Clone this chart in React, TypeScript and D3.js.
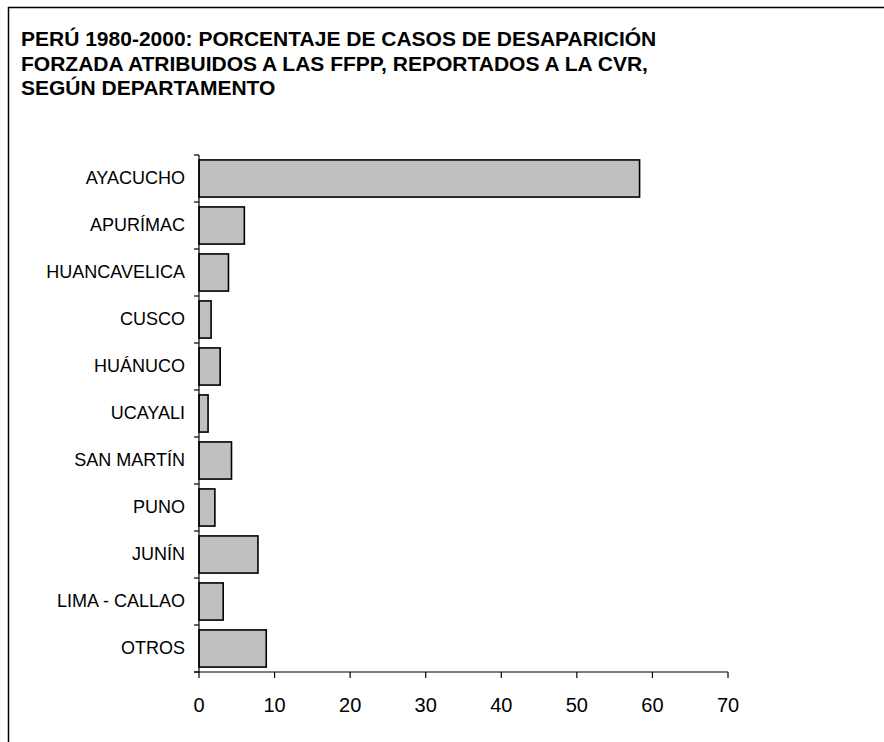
import React from 'react';
import * as d3 from 'd3';

const titleLines = [
  'PERÚ 1980-2000: PORCENTAJE DE CASOS DE DESAPARICIÓN',
  'FORZADA ATRIBUIDOS A LAS FFPP, REPORTADOS A LA CVR,',
  'SEGÚN DEPARTAMENTO',
];

const departments = [
  'AYACUCHO',
  'APURÍMAC',
  'HUANCAVELICA',
  'CUSCO',
  'HUÁNUCO',
  'UCAYALI',
  'SAN MARTÍN',
  'PUNO',
  'JUNÍN',
  'LIMA - CALLAO',
  'OTROS',
];

const percentages = [58.3, 6.0, 3.9, 1.6, 2.8, 1.2, 4.3, 2.1, 7.8, 3.2, 8.9];

const xTicks = [0, 10, 20, 30, 40, 50, 60, 70];

const App = () => {
  const width = 884;
  const height = 742;
  const font = 'Arial, "Liberation Sans", sans-serif';

  const x = d3.scaleLinear().domain([0, 70]).range([199, 728]);
  const y = d3.scaleBand<string>()
    .domain(departments)
    .range([155, 672])
    .paddingInner(0.21)
    .paddingOuter(0.105);

  // boundaries between categories, where the y axis ticks go
  const step = y.step();
  const boundaries = d3.range(departments.length + 1).map(i => 155 + i * step);

  return (
    <div style={{ position: 'absolute', left: 0, top: 0 }}>
      <svg width={width} height={height} style={{ display: 'block', background: '#fff' }}>
        {/* frame */}
        <path d={`M8.5,${height} V7.5 H${width}`} fill="none" stroke="#000" strokeWidth={1.5} />

        <g fontFamily={font} fontWeight="bold" fontSize={21} fill="#000">
          {titleLines.map((t, i) => (
            <text key={i} x={21} y={46 + i * 24.5}>{t}</text>
          ))}
        </g>

        {/* bars */}
        <g>
          {departments.map((d, i) => (
            <rect
              key={d}
              x={x(0)}
              y={y(d)}
              width={x(percentages[i]) - x(0)}
              height={y.bandwidth()}
              fill="#c0c0c0"
              stroke="#000"
              strokeWidth={1.6}
            />
          ))}
        </g>

        {/* y axis */}
        <g stroke="#000" strokeWidth={1.2}>
          <line x1={x(0)} x2={x(0)} y1={155} y2={672} />
          {boundaries.map((b, i) => (
            <line key={i} x1={x(0) - 5} x2={x(0)} y1={b} y2={b} />
          ))}
        </g>
        <g fontFamily={font} fontSize={18} textAnchor="end" fill="#000">
          {departments.map(d => (
            <text key={d} x={185} y={(y(d) ?? 0) + y.bandwidth() / 2 + 5}>
              {d}
            </text>
          ))}
        </g>

        {/* x axis */}
        <g stroke="#000" strokeWidth={1.2}>
          <line x1={x(0) - 5} x2={x(70)} y1={672} y2={672} />
          {xTicks.map(t => (
            <line key={t} x1={x(t)} x2={x(t)} y1={672} y2={678} />
          ))}
        </g>
        <g fontFamily={font} fontSize={20} textAnchor="middle" fill="#000">
          {xTicks.map(t => (
            <text key={t} x={x(t)} y={712}>{t}</text>
          ))}
        </g>
      </svg>
    </div>
  );
};

export default App;
